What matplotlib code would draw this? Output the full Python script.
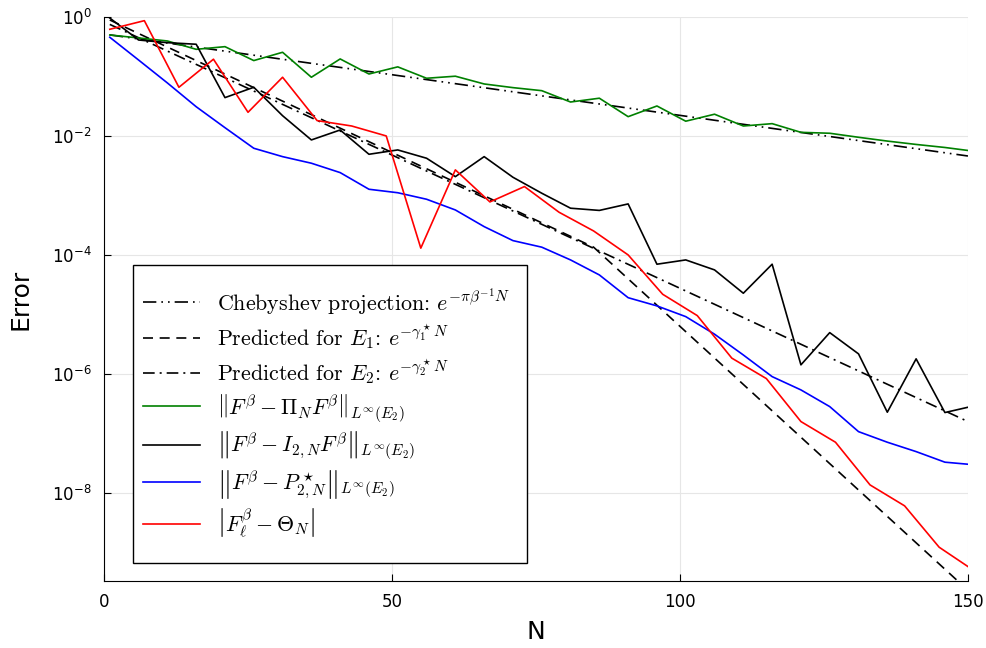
# error vs N, log scale
import matplotlib
matplotlib.use("Agg")
import matplotlib.pyplot as plt
from matplotlib.ticker import NullLocator, FixedLocator
from matplotlib.patches import Rectangle

# --- przewidywane proste (punkty koncowe)
cheb_N = [1, 150]
cheb_err = [0.50, 4.6e-3]
e1_N = [1, 85, 150]
e1_err = [0.89, 1.35e-4, 2.3e-10]
e2_N = [1, 150]
e2_err = [0.75, 1.58e-7]

# --- N co ~5 (zielona, czarna, niebieska)
N5 = [1, 6, 11, 16, 21, 26, 31, 36, 41, 46, 51, 56, 61, 66, 71, 76,
      81, 86, 91, 96, 101, 106, 111, 116, 121, 126, 131, 136, 141, 146, 150]

proj_err = [0.498, 0.444, 0.395, 0.286, 0.317, 0.185, 0.255, 0.0970, 0.197, 0.110,
            0.145, 0.0933, 0.101, 0.0748, 0.0649, 0.0577, 0.0372, 0.0431, 0.0211, 0.0319,
            0.0177, 0.0232, 0.0147, 0.0161, 0.0115, 0.0111, 0.0095, 0.0082, 0.0072, 0.0064,
            0.0057]

interp_err = [0.96, 0.41, 0.37, 0.348, 0.0441, 0.0658, 0.0219, 0.00857, 0.0126, 0.00492,
              0.00582, 0.00422, 0.00207, 0.00449, 0.00202, 0.00109, 6.1e-4, 5.6e-4, 7.2e-4, 6.98e-5,
              8.24e-5, 5.6e-5, 2.27e-5, 6.98e-5, 1.42e-6, 4.94e-6, 2.17e-6, 2.27e-7, 1.79e-6, 2.24e-7,
              2.75e-7]

best_err = [0.456, 0.189, 0.0778, 0.0310, 0.01377, 0.00621, 0.00449, 0.00348, 0.00242, 0.00127,
            0.00111, 8.63e-4, 5.70e-4, 2.99e-4, 1.74e-4, 1.35e-4, 8.24e-5, 4.61e-5, 1.91e-5, 1.39e-5,
            9.18e-6, 4.65e-6, 2.08e-6, 9.0e-7, 5.38e-7, 2.82e-7, 1.07e-7, 7.1e-8, 4.94e-8, 3.28e-8,
            3.03e-8]

# --- N co ~6 (czerwona)
N6 = [1, 7, 13, 19, 25, 31, 37, 43, 49, 55, 61, 67, 73, 79, 85, 91, 97, 103, 109, 115,
      121, 127, 133, 139, 145, 150]
theta_err = [0.621, 0.867, 0.0658, 0.195, 0.0250, 0.0970, 0.0181, 0.0147, 0.0100, 1.30e-4,
             2.69e-3, 7.78e-4, 1.41e-3, 5.22e-4, 2.53e-4, 1.0e-4, 2.18e-5, 9.55e-6, 1.84e-6, 8.34e-7,
             1.58e-7, 7.1e-8, 1.36e-8, 6.05e-9, 1.22e-9, 5.77e-10]

ytick_vals = [1e-8, 1e-6, 1e-4, 1e-2, 1e0]

labels = [
    r'Chebyshev projection: $e^{-\pi\beta^{-1}N}$',
    r'Predicted for $E_1$: $e^{-\gamma_1^\star N}$',
    r'Predicted for $E_2$: $e^{-\gamma_2^\star N}$',
    r'$\left\|F^\beta - \Pi_N F^\beta\right\|_{L^\infty(E_2)}$',
    r'$\left\|F^\beta - I_{2,N} F^\beta\right\|_{L^\infty(E_2)}$',
    r'$\left\|F^\beta - P^\star_{2,N}\right\|_{L^\infty(E_2)}$',
    r'$\left|F^\beta_\ell - \Theta_N\right|$',
]

fig = plt.figure(figsize=(9.87, 6.48), dpi=100)
ax = fig.add_axes([0.1054, 0.1034, 0.8753, 0.8704])

lw = 1.2
ax.plot(cheb_N, cheb_err, color='black', lw=lw, dashes=(8, 3, 1, 3, 1, 3), label=labels[0])
ax.plot(e1_N, e1_err, color='black', lw=lw, dashes=(6, 4), label=labels[1])
ax.plot(e2_N, e2_err, color='black', lw=lw, dashes=(7, 3, 1.2, 3), label=labels[2])
ax.plot(N5, proj_err, color='#008000', lw=lw, label=labels[3])
ax.plot(N5, interp_err, color='black', lw=lw, label=labels[4])
ax.plot(N5, best_err, color='blue', lw=lw, label=labels[5])
ax.plot(N6, theta_err, color='red', lw=lw, label=labels[6])

ax.set_yscale('log')
ax.set_xlim(0, 150)
ax.set_ylim(3.3e-10, 1.0)
ax.set_xticks([0, 50, 100, 150])
ax.yaxis.set_major_locator(FixedLocator(ytick_vals))
ax.yaxis.set_minor_locator(NullLocator())
ax.grid(True, color='#e6e6e6', lw=0.8)
ax.set_axisbelow(True)
for s in ['top', 'right']:
    ax.spines[s].set_visible(False)
ax.tick_params(direction='in', length=5, labelsize=12, pad=9)

ax.set_xlabel('N', size=18, labelpad=6)
ax.set_ylabel('Error', size=18, labelpad=14)

# ramka legendy osobno (wiekszy margines w pionie niz w poziomie)
ax.add_patch(Rectangle((0.0336, 0.0319), 0.456, 0.5284, transform=ax.transAxes,
                       facecolor='white', edgecolor='black', lw=1.0, zorder=4))
leg = ax.legend(loc='center left', bbox_to_anchor=(0.0336 + 10 / 864, 0.298), borderaxespad=0,
                prop={'family': 'cmr10', 'size': 15.8, 'math_fontfamily': 'cm'},
                frameon=False, handlelength=2.6, handletextpad=0.78,
                borderpad=0, labelspacing=0.27)
leg.set_zorder(5)

fig.savefig('out.png', dpi=100)
